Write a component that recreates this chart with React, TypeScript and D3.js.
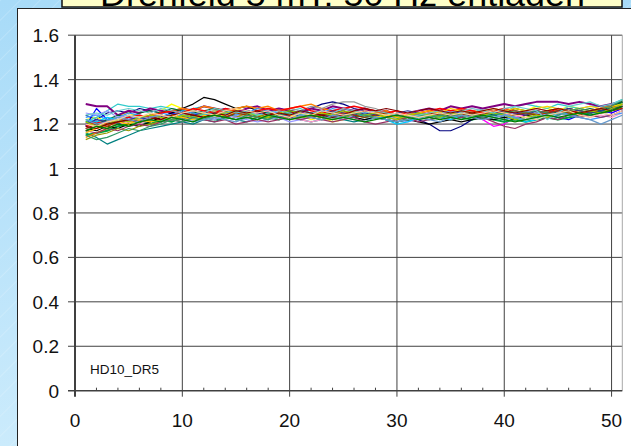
import React from "react";
import * as d3 from "d3";

const TITLE = "Drehfeld 5 mT: 50 Hz entladen";
const NOTE = "HD10_DR5";
const X_TICKS = [0, 10, 20, 30, 40, 50];
const X_MINOR = [2, 4, 6, 8, 12, 14, 16, 18, 22, 24, 26, 28, 32, 34, 36, 38, 42, 44, 46, 48];
const Y_TICKS = [0, 0.2, 0.4, 0.6, 0.8, 1, 1.2, 1.4, 1.6];
const Y_LABELS = ["0", "0.2", "0.4", "0.6", "0.8", "1", "1.2", "1.4", "1.6"];

const s01 = [1.24,1.22,1.25,1.26,1.25,1.27,1.26,1.25,1.26,1.27, 1.26,1.25,1.26,1.27,1.26,1.26,1.25,1.27,1.26,1.25, 1.26,1.27,1.29,1.30,1.29,1.27,1.26,1.25,1.24,1.23, 1.24,1.22,1.20,1.17,1.17,1.19,1.22,1.24,1.25,1.24, 1.25,1.26,1.25,1.26,1.27,1.26,1.27,1.26,1.27,1.28, 1.30];
const s02 = [1.20,1.21,1.19,1.21,1.22,1.21,1.23,1.22,1.24,1.23, 1.22,1.24,1.25,1.24,1.23,1.25,1.24,1.26,1.25,1.24, 1.25,1.24,1.23,1.24,1.25,1.26,1.25,1.24,1.23,1.22, 1.23,1.24,1.25,1.24,1.25,1.24,1.23,1.22,1.19,1.20, 1.23,1.24,1.25,1.24,1.26,1.25,1.24,1.25,1.26,1.25, 1.27];
const s03 = [1.22,1.23,1.21,1.24,1.25,1.23,1.22,1.26,1.29,1.27, 1.25,1.24,1.26,1.25,1.27,1.26,1.24,1.22,1.23,1.25, 1.24,1.22,1.23,1.21,1.22,1.24,1.23,1.25,1.24,1.22, 1.23,1.25,1.26,1.24,1.25,1.27,1.26,1.25,1.24,1.26, 1.27,1.26,1.28,1.27,1.26,1.28,1.27,1.26,1.27,1.29, 1.30];
const s04 = [1.21,1.23,1.26,1.29,1.28,1.28,1.27,1.28,1.27,1.26, 1.27,1.28,1.27,1.26,1.27,1.28,1.26,1.25,1.27,1.26, 1.27,1.25,1.24,1.26,1.25,1.24,1.23,1.24,1.22,1.21, 1.22,1.23,1.24,1.25,1.24,1.26,1.25,1.27,1.26,1.25, 1.28,1.29,1.28,1.27,1.29,1.28,1.27,1.28,1.28,1.29, 1.31];
const s05 = [1.29,1.28,1.28,1.24,1.26,1.25,1.27,1.26,1.25,1.27, 1.26,1.28,1.27,1.26,1.25,1.27,1.28,1.26,1.27,1.26, 1.25,1.27,1.26,1.28,1.27,1.26,1.27,1.25,1.26,1.24, 1.25,1.26,1.27,1.26,1.28,1.27,1.28,1.27,1.28,1.29, 1.28,1.29,1.30,1.30,1.30,1.29,1.30,1.29,1.28,1.29, 1.30];
const s06 = [1.17,1.18,1.20,1.21,1.20,1.22,1.21,1.23,1.24,1.23, 1.25,1.24,1.25,1.26,1.25,1.24,1.26,1.25,1.24,1.25, 1.26,1.25,1.24,1.23,1.25,1.24,1.26,1.25,1.24,1.23, 1.24,1.25,1.24,1.26,1.25,1.24,1.25,1.26,1.25,1.26, 1.24,1.25,1.26,1.25,1.26,1.27,1.26,1.25,1.26,1.27, 1.28];
const s07 = [1.16,1.14,1.11,1.13,1.15,1.17,1.18,1.19,1.20,1.21, 1.20,1.22,1.21,1.23,1.22,1.21,1.23,1.22,1.24,1.23, 1.22,1.21,1.22,1.23,1.22,1.21,1.22,1.23,1.22,1.21, 1.22,1.23,1.24,1.23,1.22,1.23,1.24,1.23,1.24,1.23, 1.24,1.25,1.24,1.25,1.24,1.25,1.24,1.25,1.26,1.27, 1.29];
const s08 = [1.19,1.27,1.22,1.21,1.23,1.22,1.24,1.23,1.25,1.24, 1.23,1.25,1.24,1.23,1.24,1.26,1.25,1.24,1.25,1.23, 1.24,1.25,1.26,1.25,1.24,1.23,1.25,1.24,1.23,1.24, 1.25,1.24,1.23,1.24,1.25,1.23,1.24,1.25,1.24,1.25, 1.24,1.26,1.25,1.24,1.23,1.22,1.24,1.25,1.26,1.25, 1.27];
const s09 = [1.15,1.16,1.17,1.19,1.20,1.21,1.20,1.22,1.21,1.23, 1.22,1.23,1.22,1.23,1.24,1.23,1.24,1.23,1.22,1.24, 1.23,1.24,1.25,1.23,1.24,1.25,1.24,1.23,1.24,1.23, 1.22,1.23,1.24,1.23,1.24,1.23,1.22,1.23,1.22,1.21, 1.22,1.21,1.22,1.23,1.22,1.23,1.24,1.25,1.26,1.27, 1.30];
const s10 = [1.18,1.17,1.19,1.18,1.20,1.19,1.21,1.23,1.25,1.27, 1.29,1.32,1.31,1.29,1.27,1.28,1.26,1.25,1.24,1.25, 1.24,1.23,1.24,1.25,1.24,1.23,1.22,1.23,1.22,1.21, 1.22,1.21,1.20,1.21,1.22,1.21,1.22,1.23,1.22,1.23, 1.22,1.24,1.23,1.24,1.25,1.24,1.25,1.26,1.25,1.26, 1.28];
const s11 = [1.14,1.16,1.18,1.20,1.21,1.22,1.24,1.25,1.26,1.27, 1.26,1.28,1.27,1.26,1.27,1.28,1.27,1.28,1.26,1.27, 1.28,1.29,1.27,1.26,1.25,1.26,1.24,1.25,1.26,1.24, 1.25,1.24,1.25,1.26,1.25,1.24,1.26,1.25,1.26,1.25, 1.23,1.22,1.24,1.25,1.24,1.26,1.25,1.26,1.27,1.26, 1.29];
const s12 = [1.20,1.21,1.22,1.21,1.23,1.22,1.24,1.23,1.22,1.24, 1.25,1.24,1.26,1.25,1.24,1.26,1.25,1.27,1.26,1.27, 1.26,1.28,1.27,1.29,1.30,1.30,1.28,1.27,1.25,1.24, 1.25,1.24,1.26,1.25,1.24,1.25,1.26,1.25,1.27,1.26, 1.25,1.26,1.27,1.26,1.25,1.26,1.27,1.26,1.27,1.28, 1.29];
const s13 = [1.18,1.19,1.18,1.20,1.21,1.20,1.22,1.21,1.23,1.22, 1.24,1.23,1.24,1.25,1.24,1.23,1.25,1.24,1.23,1.24, 1.22,1.21,1.22,1.23,1.24,1.25,1.24,1.26,1.25,1.24, 1.25,1.26,1.25,1.24,1.26,1.25,1.27,1.26,1.25,1.27, 1.26,1.25,1.27,1.26,1.25,1.24,1.25,1.23,1.24,1.23, 1.25];
const s14 = [1.21,1.20,1.22,1.24,1.23,1.25,1.26,1.25,1.27,1.26, 1.25,1.26,1.27,1.26,1.25,1.24,1.26,1.25,1.24,1.26, 1.25,1.24,1.23,1.25,1.24,1.23,1.24,1.25,1.24,1.23, 1.24,1.23,1.22,1.23,1.24,1.25,1.24,1.25,1.24,1.25, 1.27,1.26,1.25,1.26,1.25,1.27,1.26,1.27,1.26,1.28, 1.30];
const s15 = [1.23,1.24,1.22,1.23,1.25,1.24,1.23,1.25,1.24,1.26, 1.25,1.24,1.23,1.25,1.24,1.25,1.27,1.26,1.25,1.24, 1.23,1.24,1.25,1.27,1.26,1.25,1.24,1.23,1.22,1.23, 1.24,1.23,1.24,1.25,1.26,1.25,1.24,1.25,1.23,1.22, 1.23,1.22,1.24,1.23,1.24,1.25,1.23,1.22,1.23,1.24, 1.25];
const s16 = [1.13,1.15,1.16,1.18,1.17,1.19,1.20,1.21,1.22,1.23, 1.24,1.23,1.25,1.24,1.23,1.25,1.24,1.23,1.24,1.22, 1.23,1.24,1.23,1.22,1.23,1.24,1.23,1.24,1.25,1.23, 1.22,1.24,1.23,1.24,1.25,1.26,1.25,1.24,1.26,1.25, 1.26,1.24,1.25,1.26,1.27,1.25,1.26,1.25,1.27,1.26, 1.27];
const s17 = [1.19,1.21,1.20,1.22,1.23,1.24,1.23,1.25,1.26,1.25, 1.27,1.26,1.25,1.27,1.26,1.25,1.26,1.27,1.26,1.27, 1.28,1.26,1.25,1.26,1.27,1.28,1.27,1.26,1.25,1.26, 1.24,1.25,1.26,1.27,1.26,1.27,1.26,1.25,1.26,1.27, 1.26,1.25,1.26,1.25,1.27,1.26,1.25,1.26,1.27,1.28, 1.27];
const s18 = [1.25,1.24,1.26,1.23,1.24,1.22,1.23,1.24,1.22,1.21, 1.22,1.23,1.22,1.24,1.23,1.22,1.21,1.22,1.23,1.21, 1.22,1.23,1.24,1.23,1.22,1.24,1.25,1.23,1.24,1.22, 1.21,1.22,1.23,1.24,1.23,1.24,1.25,1.24,1.23,1.24, 1.25,1.26,1.25,1.24,1.25,1.24,1.23,1.24,1.25,1.24, 1.26];
const s19 = [1.17,1.16,1.18,1.17,1.19,1.20,1.19,1.21,1.22,1.21, 1.23,1.22,1.21,1.22,1.20,1.21,1.22,1.21,1.22,1.23, 1.22,1.23,1.22,1.21,1.22,1.23,1.21,1.20,1.21,1.22, 1.23,1.21,1.22,1.23,1.22,1.23,1.24,1.23,1.21,1.19, 1.18,1.20,1.21,1.23,1.22,1.24,1.23,1.24,1.23,1.24, 1.26];
const s20 = [1.22,1.21,1.23,1.22,1.24,1.23,1.22,1.21,1.23,1.24, 1.23,1.24,1.25,1.24,1.26,1.25,1.24,1.25,1.23,1.24, 1.26,1.25,1.24,1.23,1.24,1.25,1.23,1.24,1.22,1.20, 1.21,1.23,1.24,1.23,1.22,1.24,1.23,1.24,1.25,1.24, 1.23,1.21,1.22,1.24,1.25,1.24,1.25,1.24,1.25,1.26, 1.28];
const s21 = [1.20,1.22,1.21,1.20,1.22,1.23,1.22,1.24,1.23,1.22, 1.24,1.25,1.24,1.23,1.25,1.26,1.25,1.24,1.23,1.24, 1.23,1.25,1.24,1.26,1.25,1.24,1.25,1.24,1.23,1.25, 1.26,1.25,1.24,1.25,1.24,1.26,1.25,1.24,1.25,1.26, 1.25,1.24,1.26,1.25,1.26,1.27,1.26,1.25,1.26,1.27, 1.28];
const s22 = [1.16,1.18,1.19,1.21,1.20,1.22,1.21,1.22,1.24,1.23, 1.22,1.24,1.23,1.24,1.25,1.24,1.23,1.24,1.25,1.24, 1.23,1.24,1.25,1.24,1.23,1.25,1.24,1.23,1.24,1.23, 1.24,1.25,1.26,1.25,1.27,1.26,1.25,1.26,1.27,1.26, 1.27,1.26,1.27,1.28,1.27,1.26,1.27,1.28,1.27,1.28, 1.29];
const s23 = [1.18,1.20,1.19,1.21,1.22,1.21,1.22,1.24,1.23,1.25, 1.24,1.23,1.24,1.23,1.25,1.24,1.23,1.25,1.24,1.25, 1.24,1.23,1.24,1.25,1.26,1.24,1.23,1.24,1.25,1.24, 1.23,1.24,1.25,1.24,1.23,1.24,1.25,1.24,1.26,1.25, 1.24,1.25,1.24,1.25,1.26,1.25,1.24,1.26,1.25,1.26, 1.27];
const s24 = [1.21,1.19,1.20,1.22,1.21,1.23,1.24,1.23,1.22,1.24, 1.23,1.25,1.24,1.25,1.26,1.25,1.24,1.23,1.25,1.26, 1.25,1.24,1.25,1.24,1.26,1.25,1.24,1.25,1.23,1.22, 1.24,1.25,1.24,1.23,1.25,1.24,1.23,1.24,1.25,1.24, 1.22,1.23,1.24,1.23,1.25,1.24,1.25,1.26,1.25,1.27, 1.29];
const s25 = [1.15,1.13,1.14,1.16,1.18,1.17,1.19,1.20,1.22,1.21, 1.23,1.22,1.24,1.23,1.22,1.24,1.23,1.22,1.24,1.25, 1.24,1.23,1.22,1.24,1.23,1.25,1.24,1.23,1.22,1.21, 1.22,1.24,1.23,1.24,1.23,1.25,1.24,1.23,1.24,1.25, 1.26,1.25,1.26,1.25,1.24,1.26,1.27,1.26,1.27,1.28, 1.31];
const s26 = [1.24,1.25,1.24,1.26,1.27,1.26,1.25,1.27,1.26,1.25, 1.26,1.25,1.27,1.26,1.25,1.26,1.24,1.25,1.26,1.25, 1.24,1.25,1.26,1.25,1.27,1.26,1.25,1.26,1.25,1.24, 1.23,1.24,1.25,1.26,1.25,1.26,1.27,1.26,1.25,1.27, 1.28,1.27,1.26,1.22,1.25,1.28,1.29,1.30,1.28,1.29, 1.31];
const s27 = [1.19,1.18,1.20,1.21,1.22,1.21,1.23,1.22,1.24,1.25, 1.24,1.23,1.25,1.24,1.26,1.25,1.26,1.24,1.25,1.24, 1.26,1.25,1.24,1.23,1.24,1.26,1.27,1.26,1.27,1.26, 1.25,1.26,1.27,1.26,1.25,1.26,1.25,1.26,1.27,1.26, 1.25,1.26,1.27,1.26,1.27,1.26,1.25,1.26,1.27,1.26, 1.28];
const s28 = [1.22,1.20,1.21,1.23,1.22,1.21,1.23,1.24,1.23,1.22, 1.21,1.22,1.23,1.22,1.21,1.23,1.22,1.24,1.23,1.22, 1.24,1.23,1.22,1.24,1.23,1.22,1.21,1.23,1.22,1.21, 1.22,1.23,1.22,1.21,1.23,1.24,1.23,1.22,1.23,1.24, 1.23,1.22,1.23,1.24,1.25,1.24,1.23,1.22,1.20,1.22, 1.24];
const s29 = [1.20,1.19,1.21,1.22,1.24,1.23,1.25,1.24,1.23,1.25, 1.26,1.25,1.24,1.26,1.27,1.26,1.25,1.26,1.24,1.23, 1.25,1.24,1.26,1.25,1.24,1.25,1.26,1.25,1.24,1.25, 1.24,1.23,1.24,1.25,1.24,1.25,1.24,1.25,1.26,1.25, 1.24,1.23,1.22,1.24,1.25,1.26,1.24,1.23,1.25,1.24, 1.26];
const s30 = [1.17,1.19,1.18,1.20,1.19,1.21,1.22,1.21,1.23,1.22, 1.21,1.23,1.24,1.23,1.22,1.23,1.22,1.24,1.23,1.22, 1.23,1.24,1.23,1.22,1.23,1.22,1.21,1.22,1.23,1.24, 1.23,1.22,1.23,1.22,1.23,1.22,1.23,1.24,1.23,1.22, 1.21,1.22,1.23,1.24,1.23,1.24,1.25,1.24,1.25,1.26, 1.28];

const SERIES = [s01, s02, s03, s04, s05, s06, s07, s08, s09, s10, s11, s12, s13, s14, s15, s16, s17, s18, s19, s20, s21, s22, s23, s24, s25, s26, s27, s28, s29, s30];
const COLORS = ["#000080", "#FF00FF", "#FFFF00", "#33CCCC", "#800080", "#C00000", "#008080", "#0000FF", "#00A040", "#000000",
  "#FF8000", "#969696", "#FF99CC", "#006633", "#3399FF", "#999900", "#FF0000", "#9999FF", "#993366", "#00CCFF",
  "#333399", "#FFCC00", "#993300", "#99CC00", "#339966", "#66CCCC", "#800000", "#6699CC", "#FFCC99", "#008000"];
const WIDTHS = [1.2, 1.2, 1.4, 1.2, 2, 1.2, 1.2, 1.2, 2, 1.2, 1.4, 1.2, 1.2, 1.2, 1.2, 1.2, 1.4, 1.2, 1.2, 1.2, 1.2, 1.2, 1.2, 1.2, 1.2, 1.2, 1.2, 1.2, 1.2, 1.4];

export default function App() {
  const W = 631, H = 446;
  const left = 75, right = 622.3, top = 35.2, bottom = 390.7;
  const x = d3.scaleLinear().domain([0, 51]).range([left, right]);
  const y = d3.scaleLinear().domain([0, 1.6]).range([bottom, top]);
  const line = d3.line<number>().x((_, i) => x(i + 1)).y((d) => y(d));
  const font = "Arial, 'Liberation Sans', sans-serif";
  return (
    <svg width={W} height={H} style={{ position: "absolute", left: 0, top: 0 }} fontFamily={font}>
      <defs>
        <linearGradient id="bg" x1="0" y1="0" x2="0" y2="1">
          <stop offset="0" stopColor="#A8DBF8" />
          <stop offset="1" stopColor="#CBEBFC" />
        </linearGradient>
        <pattern id="stripes" width="14" height="14" patternUnits="userSpaceOnUse" patternTransform="rotate(45)">
          <line x1="0" y1="0" x2="0" y2="14" stroke="#ffffff" strokeOpacity="0.35" strokeWidth="1" />
        </pattern>
      </defs>
      <rect x={0} y={0} width={W} height={H} fill="url(#bg)" />
      <rect x={0} y={0} width={W} height={H} fill="url(#stripes)" />
      <rect x={62} y={-20} width={560} height={27} fill="#FFFFC8" stroke="#111" strokeWidth={1.5} />
      <text x={100} y={6} fontSize={34} textLength={485} lengthAdjust="spacingAndGlyphs" fill="#000">{TITLE}</text>
      <rect x={17.5} y={8.5} width={W} height={H} fill="#fff" stroke="#222" strokeWidth={1} />

      {Y_TICKS.filter((t) => t > 0 && t < 1.6).map((t) => (
        <line key={"h" + t} x1={68} x2={right} y1={y(t)} y2={y(t)} stroke="#404040" strokeWidth={1} />
      ))}
      <line x1={68} x2={right} y1={y(1.6)} y2={y(1.6)} stroke="#808080" strokeWidth={1.5} />
      {X_TICKS.filter((t) => t > 0).map((t) => (
        <line key={"v" + t} x1={x(t)} x2={x(t)} y1={top} y2={bottom + 6} stroke="#404040" strokeWidth={1} />
      ))}
      <line x1={right} x2={right} y1={top} y2={bottom} stroke="#a8a8a8" strokeWidth={1} />
      {X_MINOR.map((t) => (
        <line key={"m" + t} x1={x(t)} x2={x(t)} y1={bottom - 3} y2={bottom} stroke="#404040" strokeWidth={1} />
      ))}

      {SERIES.map((s, i) => (
        <path key={"s" + i} d={line(s) || ""} fill="none" stroke={COLORS[i]} strokeWidth={WIDTHS[i]} strokeLinejoin="round" />
      ))}

      <line x1={68} x2={right} y1={bottom} y2={bottom} stroke="#404040" strokeWidth={1.5} />
      <line x1={left} x2={left} y1={top} y2={bottom + 6} stroke="#404040" strokeWidth={2} />

      {Y_TICKS.map((t, i) => (
        <text key={"yl" + t} x={59} y={y(t) + 7} fontSize={19} textAnchor="end" fill="#111">{Y_LABELS[i]}</text>
      ))}
      {X_TICKS.map((t) => (
        <text key={"xl" + t} x={x(t)} y={427} fontSize={19} textAnchor="middle" fill="#111">{String(t)}</text>
      ))}
      <text x={90} y={374} fontSize={13.5} fill="#111">{NOTE}</text>
    </svg>
  );
}
